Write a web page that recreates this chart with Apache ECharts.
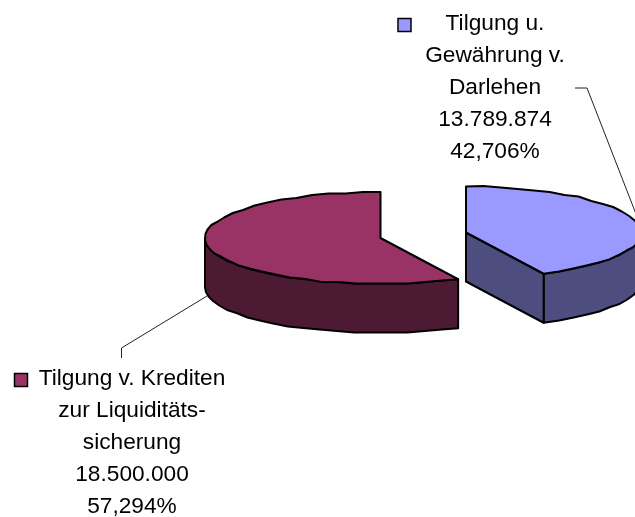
<!DOCTYPE html>
<html>
<head>
<meta charset="utf-8">
<style>html,body{margin:0;padding:0;background:#fff}#c{width:635px;height:517px}</style>
<script src="https://cdn.jsdelivr.net/npm/echarts@6/dist/echarts.min.js"></script>
</head>
<body>
<div id="c"></div>
<script>
// ---- data ----
const categoryLines = [
  ['Tilgung v. Krediten', 'zur Liquiditäts-', 'sicherung'],
  ['Tilgung u.', 'Gewährung v.', 'Darlehen']
];
const seriesValues = [18500000, 13789874];
const topColors = ['#993366', '#9999FF'];
const sideColors = ['#4D1A33', '#4D4D80'];

// ---- layout ----
const RX = 175.5, RY = 46, DEPTH = 49;
const layout = [
  { cx: 380.5, cy: 238, textX: 132, textY: 379, key: [14.5, 373.5], leader: [[121.5, 358], [121.5, 348], [207, 296]] },
  { cx: 466, cy: 232.5, textX: 495, textY: 24, key: [398, 18.5], leader: [[575, 88], [587, 88], [636, 214]] }
];
const total = seriesValues.reduce((a, b) => a + b, 0);
const fmtInt = v => String(v).replace(/\B(?=(\d{3})+$)/g, '.');
const fmtPct = v => (v / total * 100).toFixed(3).replace('.', ',') + '%';
// boundary angle, clockwise from 12 o'clock: second slice runs 0 -> split, first split -> 360
const split = seriesValues[1] / total * 2 * Math.PI;
const spans = [[split, 2 * Math.PI], [0, split]];

const pt = (l, a, dy) => [l.cx + RX * Math.sin(a), l.cy - RY * Math.cos(a) + (dy || 0)];
function arc(l, a0, a1, dy) {
  const n = Math.max(2, Math.round(Math.abs(a1 - a0) / 0.1));
  const out = [pt(l, a0, dy)];
  for (let i = 1; i < n; i++) {
    const p = pt(l, a0 + (a1 - a0) * i / n);
    out.push([p[0], Math.round(p[1] / 1.5) * 1.5 + (dy || 0)]);
  }
  out.push(pt(l, a1, dy));
  return out;
}
const edge = { stroke: '#000', lineWidth: 2, lineJoin: 'round' };

function renderItem(params) {
  const i = params.dataIndex, l = layout[i];
  const [a0, a1] = spans[i];
  const children = [];
  // visible outer wall
  const wall = i === 0 ? [a0, 1.5 * Math.PI] : [0.5 * Math.PI, a1];
  const topArc = arc(l, wall[0], wall[1], 0);
  const botArc = arc(l, wall[1], wall[0], DEPTH);
  children.push({ type: 'polygon', shape: { points: topArc.concat(botArc) },
    style: Object.assign({ fill: sideColors[i] }, edge) });
  // front cut wall of the right slice
  if (i === 1) {
    const e = pt(l, a1);
    children.push({ type: 'polygon',
      shape: { points: [[l.cx, l.cy], e, [e[0], e[1] + DEPTH], [l.cx, l.cy + DEPTH]] },
      style: Object.assign({ fill: sideColors[i] }, edge) });
  }
  // top face
  children.push({ type: 'polygon',
    shape: { points: [[l.cx, l.cy]].concat(arc(l, a0, a1, 0)) },
    style: Object.assign({ fill: topColors[i] }, edge) });
  // leader line
  children.push({ type: 'polyline', shape: { points: l.leader },
    style: { stroke: '#222', lineWidth: 1, fill: null } });
  // legend key
  children.push({ type: 'rect', shape: { x: l.key[0], y: l.key[1], width: 13, height: 13 },
    style: { fill: topColors[i], stroke: '#000', lineWidth: 1.5 } });
  // label
  const lines = categoryLines[i].concat([fmtInt(seriesValues[i]), fmtPct(seriesValues[i])]);
  lines.forEach((t, k) => children.push({ type: 'text',
    style: { text: t, x: l.textX, y: l.textY + k * 32, align: 'center', verticalAlign: 'middle',
      fill: '#000', font: '22.7px "Liberation Sans", Arial, sans-serif' } }));
  return { type: 'group', children };
}

const chart = echarts.init(document.getElementById('c'), null, { renderer: 'canvas' });
chart.setOption({
  animation: false,
  backgroundColor: '#fff',
  series: [{
    type: 'custom',
    coordinateSystem: 'none',
    renderItem,
    silent: true,
    data: seriesValues.map((v, i) => ({ name: categoryLines[i].join(' '), value: v }))
  }]
});
</script>
</body>
</html>
